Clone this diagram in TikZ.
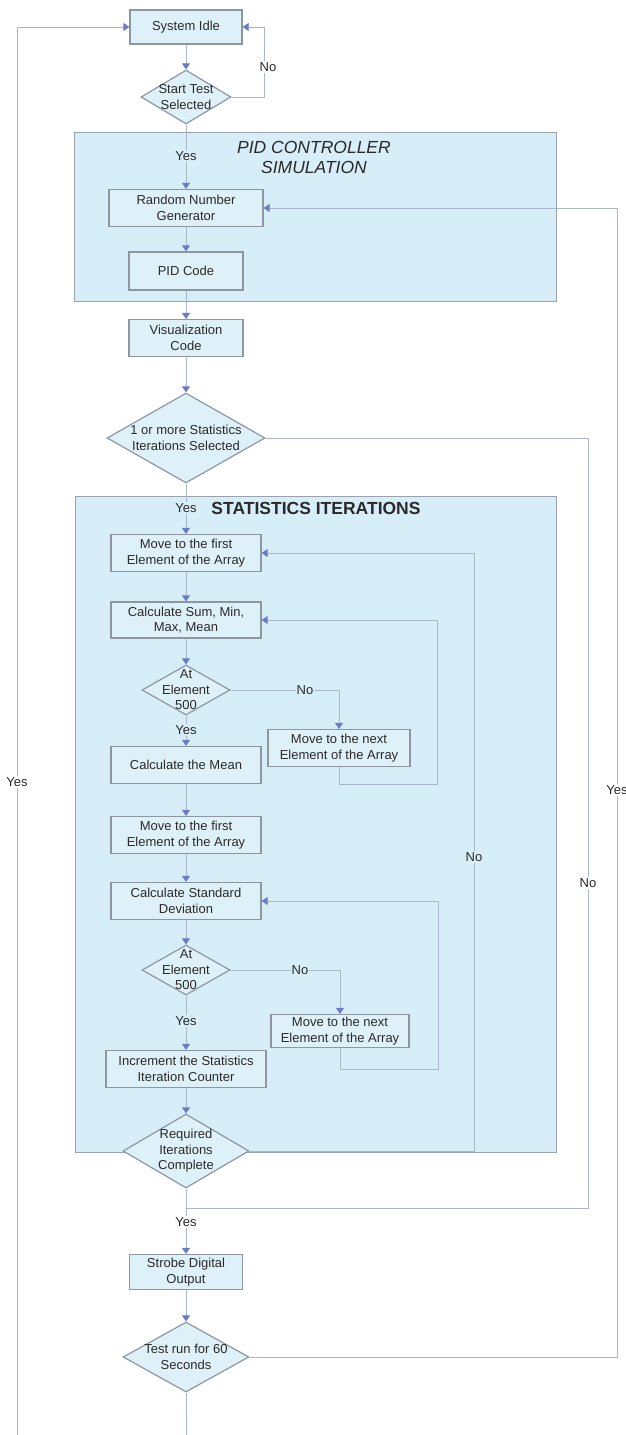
\documentclass[tikz,border=0pt]{standalone}
\usepackage{fontspec}
\setmainfont{Liberation Sans}
\usetikzlibrary{shapes.geometric,arrows.meta}
\definecolor{grpfill}{HTML}{D7EEF9}
\definecolor{boxfill}{HTML}{DFF1F8}
\definecolor{grpline}{HTML}{9AA3AB}
\definecolor{boxline}{HTML}{8C97A2}
\definecolor{wire}{HTML}{A9B7CB}
\definecolor{tipcol}{HTML}{6A7DC4}
\definecolor{ink}{HTML}{2A2A2A}

\begin{document}
\begin{tikzpicture}[x=1pt,y=-1pt,
  txt/.style={font=\fontsize{13}{15.5}\selectfont, text=ink, align=center},
  proc/.style={txt, rectangle, draw=boxline, line width=1.2pt, fill=boxfill, inner sep=0pt},
  dec/.style={diamond, draw=boxline, line width=1.2pt, fill=boxfill, inner sep=0pt},
  grp/.style={rectangle, draw=grpline, line width=1.2pt, fill=grpfill, inner sep=0pt, anchor=north west},
  grptitle/.style={font=\fontsize{17.5}{20}\selectfont, text=ink, align=center},
  conn/.style={draw=wire, line width=1pt},
  arr/.style={conn, -{Triangle[width=8pt,length=6pt,color=tipcol,fill=tipcol]}},
  lbl/.style={txt, inner sep=1pt, fill=#1},
  lbl/.default=white]

\useasboundingbox (0,0) rectangle (625,1435);
\clip (0,0) rectangle (625,1435);

% ---- group backgrounds ----
\node[grp, minimum width=482pt, minimum height=169pt] (pidsim) at (74,132) {};
\node[grptitle, font=\fontsize{17.5}{20}\selectfont\itshape] (pidtitle) at (314,157) {PID CONTROLLER\\SIMULATION};
\node[grp, minimum width=481pt, minimum height=656pt] (statgrp) at (75,496) {};
\node[grptitle, font=\fontsize{17.5}{20}\selectfont\bfseries] (stattitle) at (316,508) {STATISTICS ITERATIONS};

% ---- process boxes and decisions ----
\node[proc, minimum width=112pt, minimum height=34pt] (idle) at (186,27) {System Idle};
\node[dec, minimum width=90pt, minimum height=54pt,
      label={[txt]center:{Start Test\\Selected}}] (start) at (186,97) {};
\node[proc, minimum width=154pt, minimum height=37pt] (rng) at (186,208) {Random Number\\Generator};
\node[proc, minimum width=114pt, minimum height=38pt] (pid) at (186,271) {PID Code};
\node[proc, minimum width=114pt, minimum height=37pt] (vis) at (186,338) {Visualization\\Code};
\node[dec, minimum width=158pt, minimum height=90pt,
      label={[txt]center:{1 or more Statistics\\Iterations Selected}}] (iters) at (186,438) {};

\node[proc, minimum width=150pt, minimum height=37pt] (first1) at (186,553) {Move to the first\\Element of the Array};
\node[proc, minimum width=150pt, minimum height=36pt] (sum) at (186,620) {Calculate Sum, Min,\\Max, Mean};
\node[dec, minimum width=88pt, minimum height=50pt,
      label={[txt]center:{At\\Element\\500}}] (at1) at (186,690) {};
\node[proc, minimum width=142pt, minimum height=37pt] (next1) at (339,748) {Move to the next\\Element of the Array};
\node[proc, minimum width=150pt, minimum height=37pt] (mean) at (186,765) {Calculate the Mean};
\node[proc, minimum width=150pt, minimum height=37pt] (first2) at (186,835) {Move to the first\\Element of the Array};
\node[proc, minimum width=150pt, minimum height=37pt] (std) at (186,901) {Calculate Standard\\Deviation};
\node[dec, minimum width=88pt, minimum height=50pt,
      label={[txt]center:{At\\Element\\500}}] (at2) at (186,970) {};
\node[proc, minimum width=138pt, minimum height=33pt] (next2) at (340,1031) {Move to the next\\Element of the Array};
\node[proc, minimum width=160pt, minimum height=37pt] (inc) at (186,1069) {Increment the Statistics\\Iteration Counter};
\node[dec, minimum width=126pt, minimum height=74pt,
      label={[txt]center:{Required\\Iterations\\Complete}}] (req) at (186,1151) {};

\node[proc, minimum width=113pt, minimum height=35pt] (strobe) at (186,1272) {Strobe Digital\\Output};
\node[dec, minimum width=126pt, minimum height=70pt,
      label={[txt]center:{Test run for 60\\Seconds}}] (test) at (186,1357) {};

% ---- bend points of the connectors ----
\coordinate (idleback) at (264,27);
\coordinate (loopA) at (437,784);
\coordinate (loopB) at (438,1069);
\coordinate (reqback) at (474,1151);
\coordinate (skipdown) at (588,1208);
\coordinate (merge) at (186,1208);
\coordinate (testback) at (617,1357);
\coordinate (bottomC) at (186,1460);
\coordinate (bottomL) at (17,1460);

% ---- connectors ----
\draw[arr] (idle.south) -- (start.north);
\draw[arr] (start.east) -| (idleback) -- (idle.east);
\draw[arr] (start.south) -- (rng.north);
\draw[arr] (rng.south) -- (pid.north);
\draw[arr] (pid.south) -- (vis.north);
\draw[arr] (vis.south) -- (iters.north);
\draw[arr] (iters.south) -- (first1.north);
\draw[arr] (first1.south) -- (sum.north);
\draw[arr] (sum.south) -- (at1.north);
\draw[arr] (at1.east) -| (next1.north);
\draw[arr] (at1.south) -- (mean.north);
\draw[arr] (next1.south) |- (loopA) |- (sum.east);
\draw[arr] (mean.south) -- (first2.north);
\draw[arr] (first2.south) -- (std.north);
\draw[arr] (std.south) -- (at2.north);
\draw[arr] (at2.east) -| (next2.north);
\draw[arr] (at2.south) -- (inc.north);
\draw[arr] (next2.south) |- (loopB) |- (std.east);
\draw[arr] (inc.south) -- (req.north);
\draw[arr] (req.east) -- (reqback) |- (first1.east);
\draw[arr] (req.south) -- (strobe.north);
\draw[conn] (iters.east) -| (skipdown) -- (merge);
\draw[arr] (strobe.south) -- (test.north);
\draw[arr] (test.east) -- (testback) |- (rng.east);
\draw[arr] (test.south) -- (bottomC) -- (bottomL) |- (idle.west);

% ---- branch labels ----
\node[lbl] (noidle) at (268,67) {No};
\node[lbl=grpfill] (yespid) at (186,156) {Yes};
\node[lbl=grpfill] (yesstat) at (186,508) {Yes};
\node[lbl=grpfill] (noat1) at (305,690) {No};
\node[lbl=grpfill] (yesat1) at (186,730) {Yes};
\node[lbl=grpfill] (noreq) at (474,857) {No};
\node[lbl=grpfill] (noat2) at (300,970) {No};
\node[lbl=grpfill] (yesat2) at (186,1021) {Yes};
\node[lbl] (yesreq) at (186,1222) {Yes};
\node[lbl] (noiters) at (588,883) {No};
\node[lbl] (yestest) at (617,790) {Yes};
\node[lbl] (yesback) at (17,782) {Yes};

\end{tikzpicture}
\end{document}
